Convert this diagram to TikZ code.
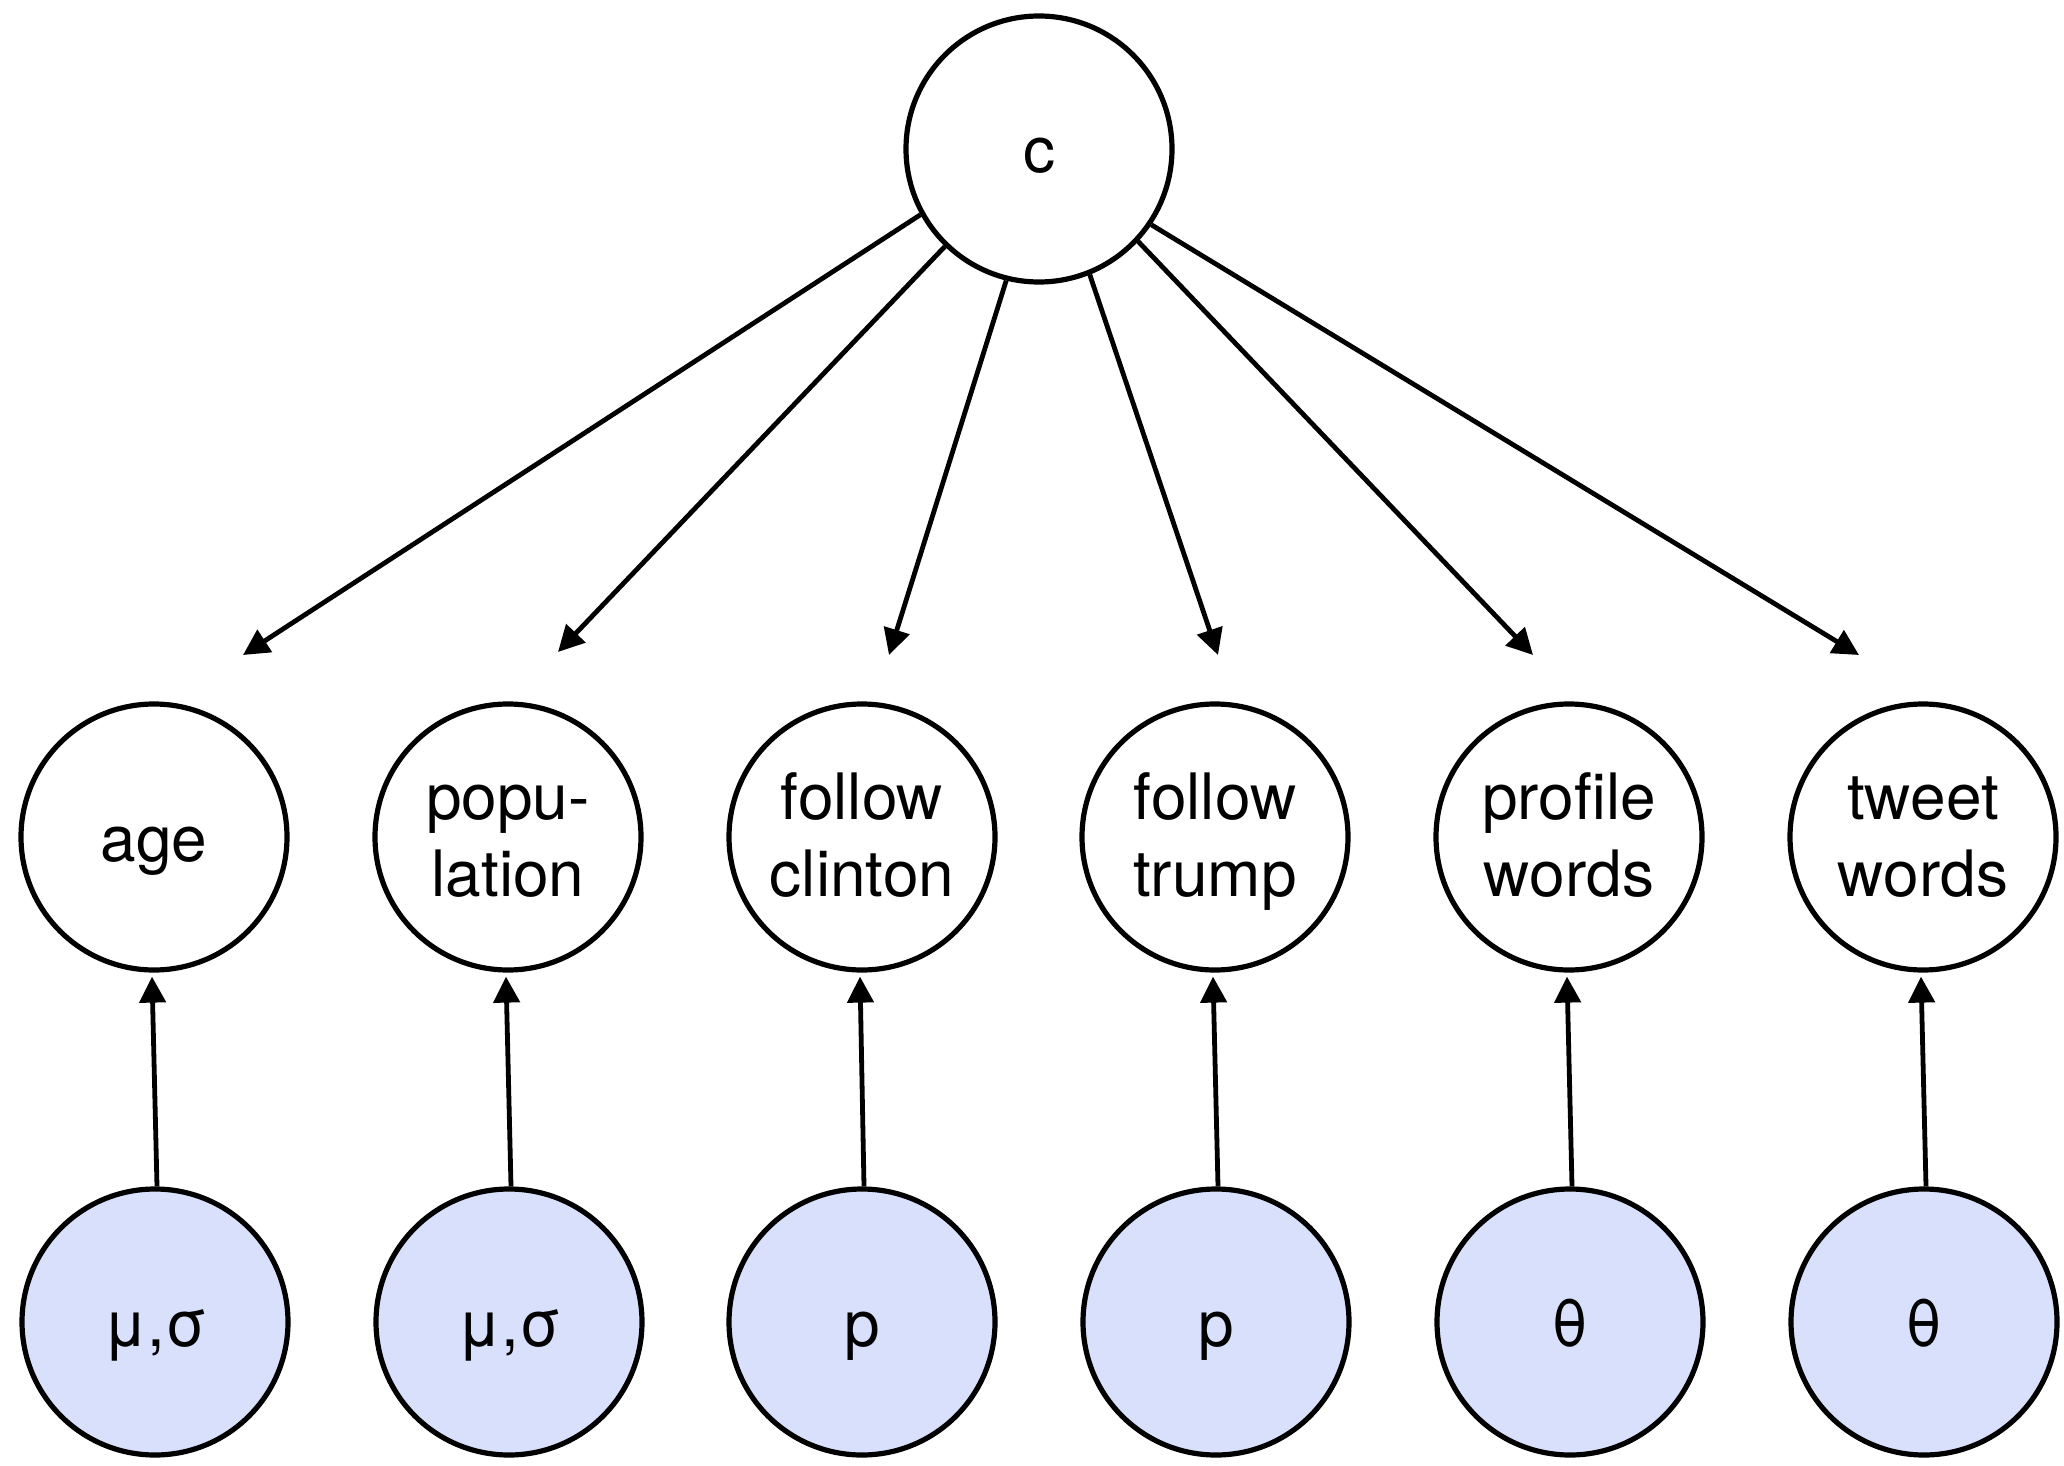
\documentclass[tikz,border=0pt]{standalone}
\usepackage{fontspec}
\setmainfont{TeX Gyre Heros}
\usetikzlibrary{arrows.meta}
\definecolor{paramfill}{RGB}{217,224,252}
% two centred lines whose first baseline sits 18pt above the node centre
\newcommand{\twoline}[2]{\raisebox{42pt}{\smash{\vtop{\halign{\hfil##\hfil\cr #1\cr #2\cr}}}}}
\begin{document}
\begin{tikzpicture}[x=1pt,y=-1pt,
  var/.style={circle,draw=black,line width=5.2pt,minimum size=266pt,inner sep=0pt,
    font=\fontsize{64}{77}\selectfont,text height=48pt,text depth=0pt},
  obs/.style={var,fill=white},
  param/.style={var,fill=paramfill},
  edge/.style={line width=4.8pt,-{Triangle[length=26pt,width=26pt]}}]
\useasboundingbox (0,0) rectangle (2064,1466);

% class node
\node[obs] (c) at (1039,149) {c};

% feature nodes
\node[obs] (age) at (154,837) {age};
\node[obs] (pop) at (508,837) {\twoline{popu-}{lation}};
\node[obs] (fcl) at (862,837) {\twoline{follow}{clinton}};
\node[obs] (ftr) at (1215,837) {\twoline{follow}{trump}};
\node[obs] (prw) at (1569,837) {\twoline{profile}{words}};
\node[obs] (tww) at (1923,837) {\twoline{tweet}{words}};

% parameter nodes
\node[param] (pa) at (155,1322) {μ,σ};
\node[param] (pb) at (509,1322) {μ,σ};
\node[param] (pc) at (862,1322) {p};
\node[param] (pd) at (1216,1322) {p};
\node[param] (pe) at (1570,1322) {θ};
\node[param] (pf) at (1924,1322) {θ};

% free ends of the class arrows
\coordinate (ta) at (243,655);
\coordinate (tb) at (558,652);
\coordinate (tc) at (889,655);
\coordinate (td) at (1218,655);
\coordinate (te) at (1533,655);
\coordinate (tf) at (1859,655);

\draw[edge] (c.209) -- (ta);
\draw[edge] (c.226) -- (tb);
\draw[edge] (c.256) -- (tc);
\draw[edge] (c.292) -- (td);
\draw[edge] (c.317) -- (te);
\draw[edge] (c.326) -- (tf);

% parameter arrows, each leaning slightly left
\foreach \p/\f in {pa/age,pb/pop,pc/fcl,pd/ftr,pe/prw,pf/tww}
  \draw[edge] ([xshift=2pt]\p.north) -- ([xshift=-2pt,yshift=-4pt]\f.south);
\end{tikzpicture}
\end{document}
